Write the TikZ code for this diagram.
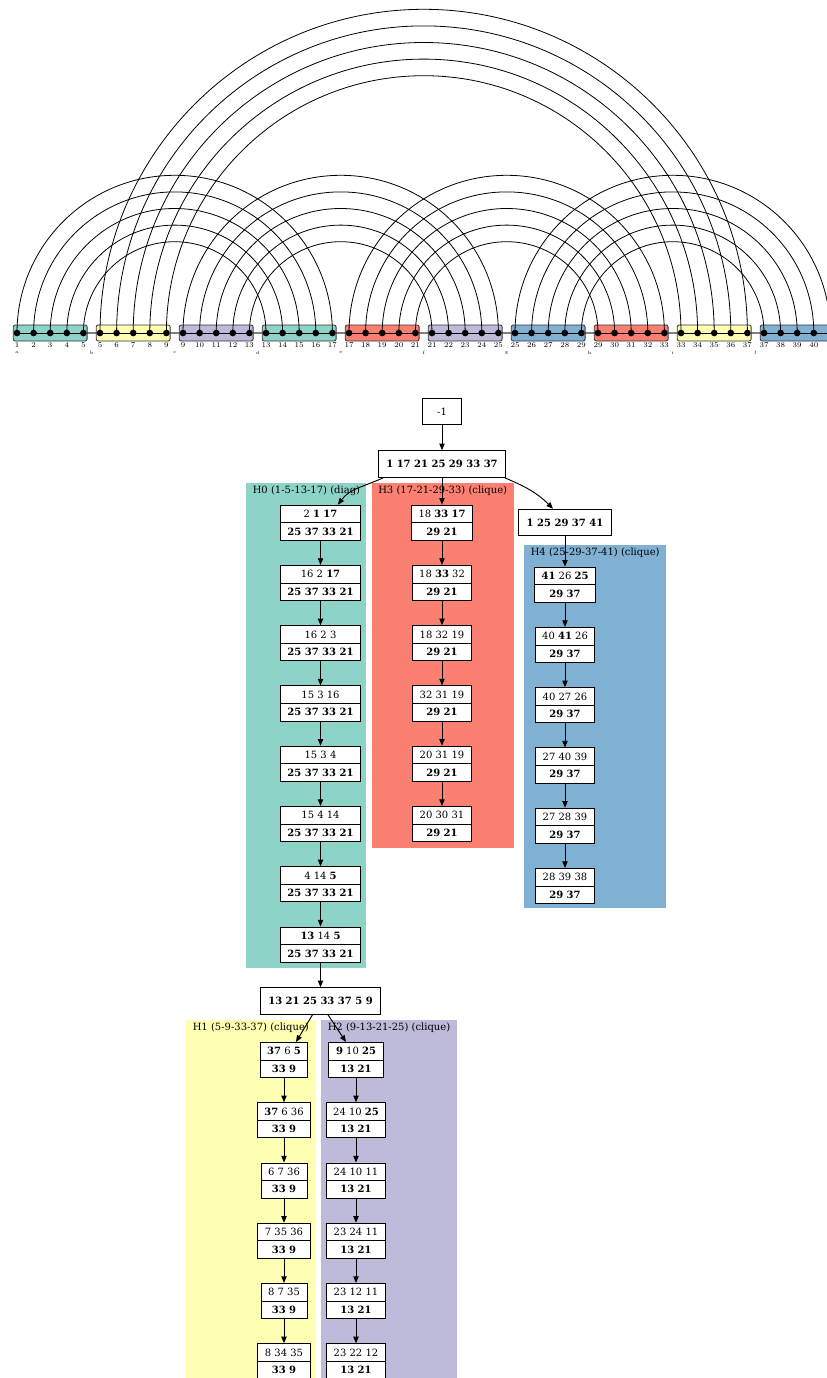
\documentclass[tikz,border=0pt]{standalone}
\usepackage{fontspec}
\newfontfamily\gvfont{DejaVu Serif}
\usetikzlibrary{arrows.meta,shapes.multipart,positioning}
\definecolor{setteal}{HTML}{8DD3C7}
\definecolor{setyellow}{HTML}{FFFFB3}
\definecolor{setpurple}{HTML}{BEBADA}
\definecolor{setred}{HTML}{FB8072}
\definecolor{setblue}{HTML}{80B1D3}
\newcommand\gv{\gvfont\fontsize{7.5}{9}\selectfont}

\begin{document}
\begin{tikzpicture}[x=0.75pt,y=-0.75pt,>={Triangle[length=5pt,width=4pt]},node distance=45.2pt,
    every edge/.style={draw,->,line width=0.7pt},
    pnt/.style={circle,fill=black,inner sep=0pt,minimum size=5pt},
    seg/.style={draw=black!80,line width=0.6pt,rounded corners=1.5pt},
    num/.style={font=\fontsize{5.5}{6}\selectfont,inner sep=0pt},
    lett/.style={font=\fontsize{3.5}{4}\selectfont,inner sep=0pt},
    rec/.style={rectangle split,rectangle split parts=2,draw,fill=white,font=\gv,inner xsep=5.3pt,inner ysep=3.4pt,line width=0.7pt},
    gbox/.style={draw,fill=white,font=\gv\bfseries,inner xsep=6pt,minimum height=20pt,line width=0.7pt},
    clu/.style={font=\gv,anchor=west,inner sep=0pt}]

\useasboundingbox (0,0) rectangle (827,1378);

\foreach \k in {0,...,49}{
    \coordinate (p\k) at ({17+16.6*\k},333);
}

\draw[gray,line width=1pt] (p0) -- (p49);
\foreach \b/\col [evaluate=\b as \s using {int(5*\b)}, evaluate=\b as \e using {int(5*\b+4)}] in {0/setteal,1/setyellow,2/setpurple,3/setteal,4/setred,5/setpurple,6/setblue,7/setred,8/setyellow,9/setblue}{
    \draw[seg,fill=\col] ([xshift=-2.8pt,yshift=6pt]p\s) rectangle ([xshift=2.8pt,yshift=-6pt]p\e);
    \draw[line width=0.6pt] (p\s) -- (p\e);
}

\foreach \s/\e in {0/19,5/44,10/29,20/39,30/49}{
    \foreach \i [evaluate=\i as \a using {int(\s+\i)}, evaluate=\i as \r using {(\e-\s-2*\i)*6.225}] in {0,...,4}{
        \draw[line width=0.6pt] (p\a) arc[start angle=180,end angle=0,radius=\r pt];
    }
}

\foreach \k in {0,...,49}{
    \node[pnt] (d\k) at (p\k) {};
}
\foreach \k [evaluate=\k as \lab using {int(4*floor(\k/5)+mod(\k,5)+1)}] in {0,...,48}{
    \node[num] (l\k) at ({17+16.6*\k},345) {\lab};
}
\node[lett] (la) at (17,352.7) {a};
\foreach \b/\t [evaluate=\b as \x using {83*\b+8.7}] in {1/b,2/c,3/d,4/e,5/f,6/g,7/h,8/i,9/j}{
    \node[lett] (l\t) at (\x,352.7) {\t};
}

\fill[setteal] (246,483) rectangle (366,968);
\fill[setred] (372,483) rectangle (514,848);
\fill[setblue] (524,545) rectangle (666,908);
\fill[setyellow] (186,1020) rectangle (316,1378);
\fill[setpurple] (321,1020) rectangle (457,1378);
\node[clu] (c0) at (252.5,491) {H0 (1-5-13-17) (diag)};
\node[clu] (c3) at (378,491) {H3 (17-21-29-33) (clique)};
\node[clu] (c4) at (530.5,553) {H4 (25-29-37-41) (clique)};
\node[clu] (c1) at (192.5,1028) {H1 (5-9-33-37) (clique)};
\node[clu] (c2) at (327.5,1028) {H2 (9-13-21-25) (clique)};

\node[gbox,font=\gv,minimum width=29.25pt] (m1) at (442,411.5) {-1};
\node[gbox] (root) at (442,464) {1 17 21 25 29 33 37};
\node[gbox] (n25) at (565,522.5) {1 25 29 37 41};
\node[gbox] (n13) at (320.5,1001) {13 21 25 33 37 5 9};

\node[rec] (h0r0) at (320.5,522.7) {2 \textbf{1} \textbf{17}\nodepart{two}\textbf{25 37 33 21}};
\foreach \txt [count=\curr from 1, evaluate=\curr as \prev using {int(\curr-1)}] in {{16 2 \textbf{17}},{16 2 3},{15 3 16},{15 3 4},{15 4 14},{4 14 \textbf{5}},{\textbf{13} 14 \textbf{5}}}{
    \node[rec] (h0r\curr) [below of=h0r\prev] {\txt\nodepart{two}\textbf{25 37 33 21}};
    \path (h0r\prev) edge (h0r\curr);
}

\node[rec] (h3r0) at (442,522.7) {18 \textbf{33} \textbf{17}\nodepart{two}\textbf{29 21}};
\foreach \txt [count=\curr from 1, evaluate=\curr as \prev using {int(\curr-1)}] in {{18 \textbf{33} 32},{18 32 19},{32 31 19},{20 31 19},{20 30 31}}{
    \node[rec] (h3r\curr) [below of=h3r\prev] {\txt\nodepart{two}\textbf{29 21}};
    \path (h3r\prev) edge (h3r\curr);
}

\node[rec] (h4r0) at (565,584.7) {\textbf{41} 26 \textbf{25}\nodepart{two}\textbf{29 37}};
\foreach \txt [count=\curr from 1, evaluate=\curr as \prev using {int(\curr-1)}] in {{40 \textbf{41} 26},{40 27 26},{27 40 39},{27 28 39},{28 39 38}}{
    \node[rec] (h4r\curr) [below of=h4r\prev] {\txt\nodepart{two}\textbf{29 37}};
    \path (h4r\prev) edge (h4r\curr);
}

\node[rec] (h1r0) at (284,1060) {\textbf{37} 6 \textbf{5}\nodepart{two}\textbf{33 9}};
\foreach \txt [count=\curr from 1, evaluate=\curr as \prev using {int(\curr-1)}] in {{\textbf{37} 6 36},{6 7 36},{7 35 36},{8 7 35},{8 34 35}}{
    \node[rec] (h1r\curr) [below of=h1r\prev] {\txt\nodepart{two}\textbf{33 9}};
    \path (h1r\prev) edge (h1r\curr);
}

\node[rec] (h2r0) at (356,1060) {\textbf{9} 10 \textbf{25}\nodepart{two}\textbf{13 21}};
\foreach \txt [count=\curr from 1, evaluate=\curr as \prev using {int(\curr-1)}] in {{24 10 \textbf{25}},{24 10 11},{23 24 11},{23 12 11},{23 22 12}}{
    \node[rec] (h2r\curr) [below of=h2r\prev] {\txt\nodepart{two}\textbf{13 21}};
    \path (h2r\prev) edge (h2r\curr);
}

\path (m1) edge (root)
    (root) edge (h3r0)
    ([xshift=4pt]root.south west) edge[out=205,in=53] ([xshift=13pt]h0r0.north)
    ([xshift=-1pt]root.south east) edge[out=-23,in=135] ([xshift=-9pt]n25.north)
    (n25) edge (h4r0)
    (h0r7) edge (n13)
    ([xshift=-6pt]n13.south) edge ([xshift=9pt]h1r0.north)
    ([xshift=5.6pt]n13.south) edge ([xshift=-7.5pt]h2r0.north);

\end{tikzpicture}
\end{document}
